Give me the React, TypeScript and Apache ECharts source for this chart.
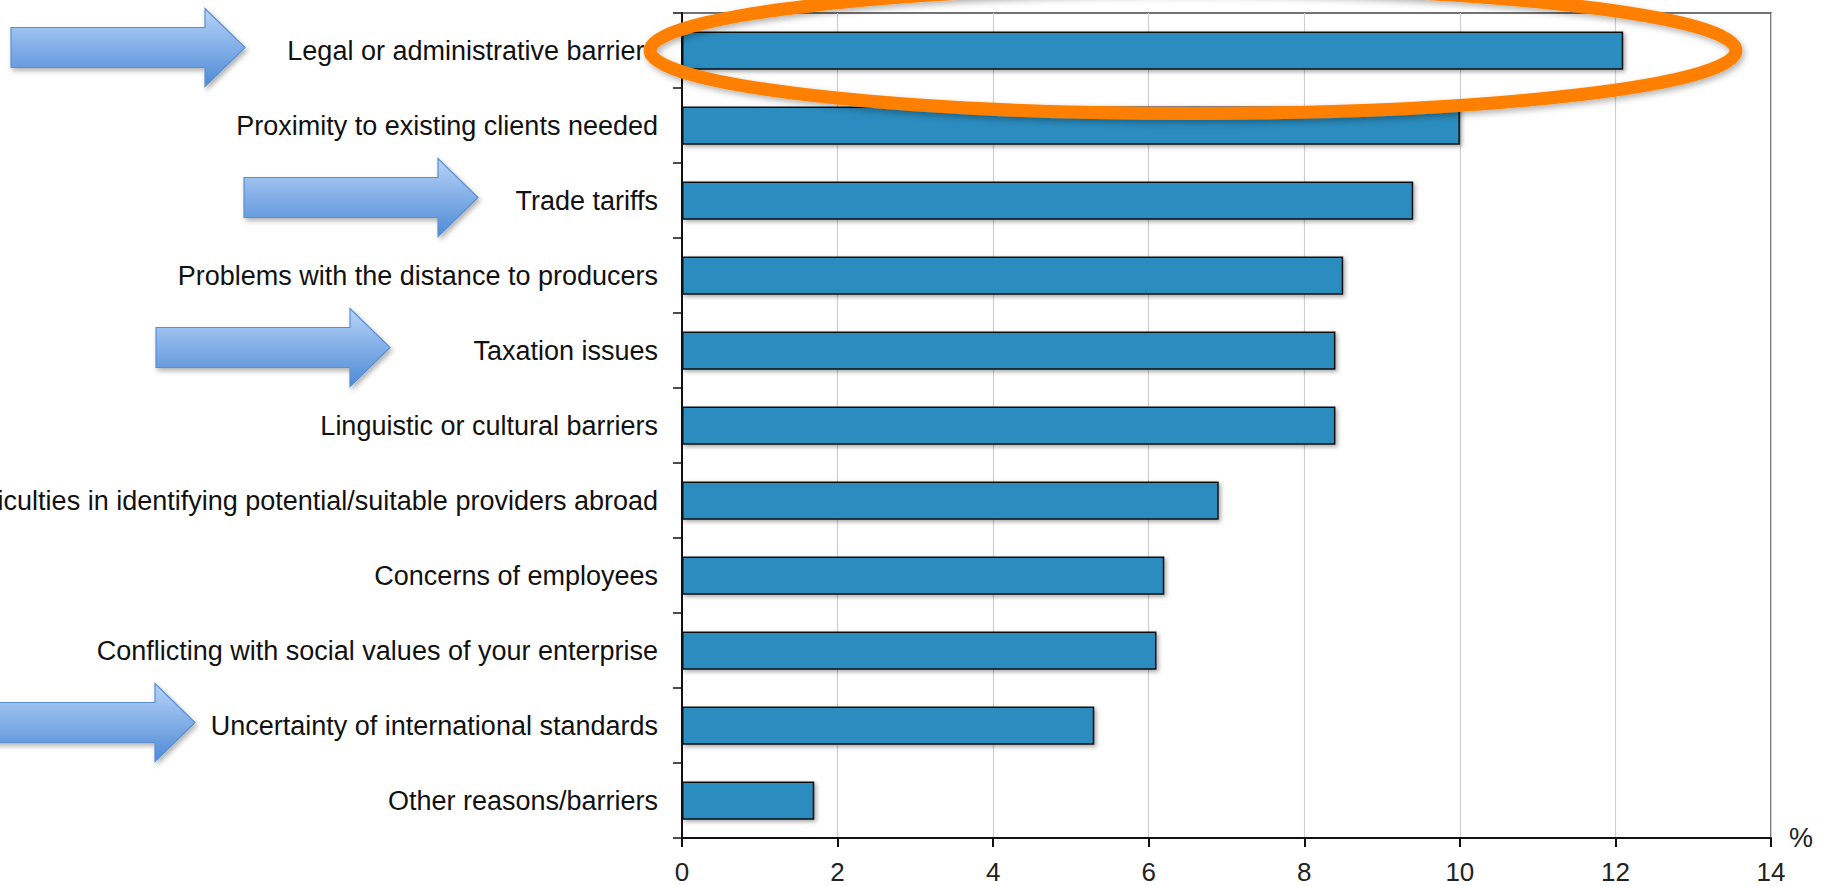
import React, { useEffect, useRef } from "react";
import * as echarts from "echarts";

const categories = [
  "Legal or administrative barriers",
  "Proximity to existing clients needed",
  "Trade tariffs",
  "Problems with the distance to producers",
  "Taxation issues",
  "Linguistic or cultural barriers",
  "Difficulties in identifying potential/suitable providers abroad",
  "Concerns of employees",
  "Conflicting with social values of your enterprise",
  "Uncertainty of international standards",
  "Other reasons/barriers",
];
const values = [12.1, 10.0, 9.4, 8.5, 8.4, 8.4, 6.9, 6.2, 6.1, 5.3, 1.7];
const xTicks = [0, 2, 4, 6, 8, 10, 12, 14];
const unitLabel = "%";
// highlighted categories (arrows) and their arrow tip x positions (px)
const arrowTargets = [
  { category: "Legal or administrative barriers", tipX: 245 },
  { category: "Trade tariffs", tipX: 478 },
  { category: "Taxation issues", tipX: 390 },
  { category: "Uncertainty of international standards", tipX: 195 },
];
const circledCategory = "Legal or administrative barriers";

const FONT = "'Liberation Sans', Arial, Helvetica, sans-serif";

export default function App() {
  const ref = useRef<HTMLDivElement>(null);
  useEffect(() => {
    if (!ref.current) return;
    const chart = echarts.init(ref.current, undefined, { renderer: "svg" });
    chart.setOption({
      animation: false,
      backgroundColor: "#ffffff",
      grid: {
        left: 682,
        right: 51,
        top: 13,
        bottom: 48,
        show: true,
        borderColor: "#444",
        borderWidth: 1.5,
        containLabel: false,
        outerBoundsMode: "none",
      },
      xAxis: {
        type: "value",
        min: xTicks[0],
        max: xTicks[xTicks.length - 1],
        interval: 2,
        name: unitLabel,
        nameLocation: "end",
        nameGap: 18,
        nameTextStyle: { fontFamily: FONT, fontSize: 27, color: "#222", verticalAlign: "middle" },
        axisLine: { show: true, lineStyle: { color: "#111", width: 2 } },
        axisTick: { show: true, length: 9, lineStyle: { color: "#111", width: 2 } },
        axisLabel: { fontFamily: FONT, fontSize: 26, lineHeight: 26, color: "#222", margin: 21 },
        splitLine: { show: true, lineStyle: { color: "#cfcfcf", width: 1.2 } },
      },
      yAxis: {
        type: "category",
        data: categories,
        inverse: true,
        axisLine: { show: true, lineStyle: { color: "#111", width: 2 } },
        axisTick: { show: true, length: 9, alignWithLabel: false, lineStyle: { color: "#111", width: 1.5 } },
        axisLabel: { fontFamily: FONT, fontSize: 27, color: "#111", margin: 24, interval: 0 },
        splitLine: { show: false },
      },
      series: [
        {
          type: "bar",
          data: values,
          barCategoryGap: "49%",
          itemStyle: {
            color: "#2b8cbf",
            borderColor: "#111",
            borderWidth: 1.5,
            shadowColor: "rgba(0,0,0,0.35)",
            shadowBlur: 4,
            shadowOffsetX: 2,
            shadowOffsetY: 2,
          },
        },
      ],
    });

    const arrowGradient = {
      type: "linear",
      x: 0,
      y: 0,
      x2: 0,
      y2: 1,
      colorStops: [
        { offset: 0, color: "#b6d4f8" },
        { offset: 1, color: "#4f8ad6" },
      ],
    };
    const headLen = 40;
    const bodyLen = 194;
    const headHalf = 39;
    const bodyHalf = 20;
    const graphics: any[] = arrowTargets.map((a) => {
      const cy = (chart.convertToPixel({ yAxisIndex: 0 }, a.category) as number) - 3;
      const t = a.tipX;
      const b = t - headLen;
      const l = b - bodyLen;
      return {
        type: "polygon",
        z: 100,
        shape: {
          points: [
            [l, cy - bodyHalf],
            [b, cy - bodyHalf],
            [b, cy - headHalf],
            [t, cy],
            [b, cy + headHalf],
            [b, cy + bodyHalf],
            [l, cy + bodyHalf],
          ],
        },
        style: {
          fill: arrowGradient,
          stroke: "#5a8fd2",
          lineWidth: 1.2,
          shadowColor: "rgba(0,0,0,0.3)",
          shadowBlur: 5,
          shadowOffsetX: 2,
          shadowOffsetY: 3,
        },
      };
    });
    const ecy = chart.convertToPixel({ yAxisIndex: 0 }, circledCategory) as number;
    graphics.push({
      type: "ellipse",
      z: 101,
      shape: { cx: 1193, cy: ecy, rx: 543, ry: 63 },
      style: {
        fill: "none",
        stroke: "#ff8000",
        lineWidth: 13,
        shadowColor: "rgba(0,0,0,0.3)",
        shadowBlur: 6,
        shadowOffsetX: 2,
        shadowOffsetY: 3,
      },
    });
    chart.setOption({ graphic: graphics });

    return () => chart.dispose();
  }, []);
  return (
    <div
      ref={ref}
      style={{ position: "absolute", left: 0, top: 0, width: 1822, height: 886 }}
    />
  );
}
